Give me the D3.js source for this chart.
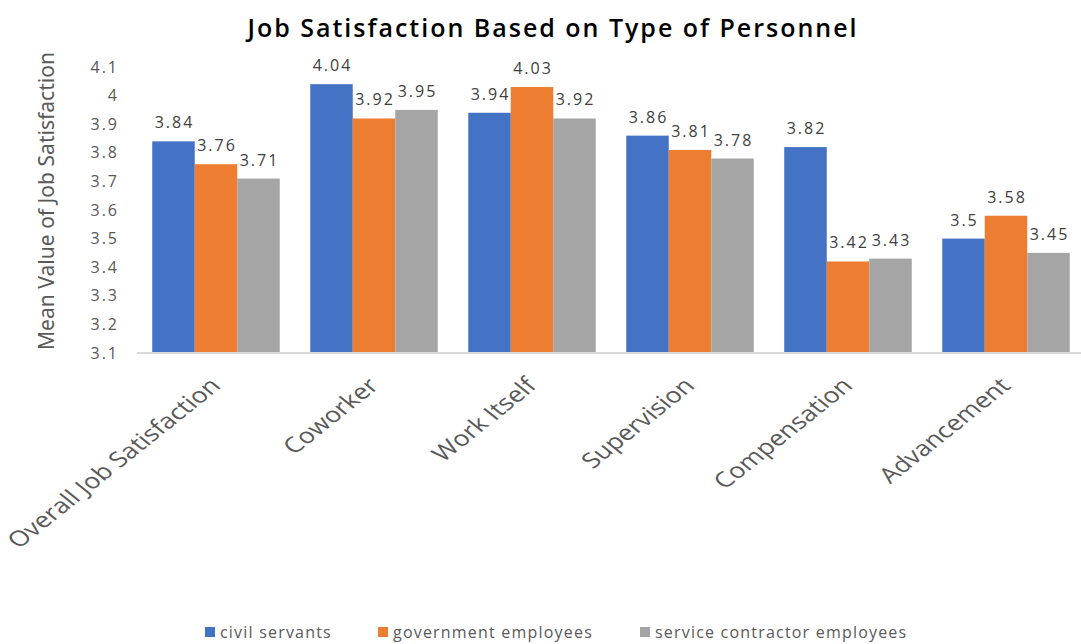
<!DOCTYPE html>
<html>
<head>
<meta charset="utf-8">
<script src="https://cdn.jsdelivr.net/npm/d3@7"></script>
<style>
  html, body { margin: 0; padding: 0; background: #fff; }
  svg { display: block; }
</style>
</head>
<body>
<svg id="chart" width="1081" height="644"></svg>
<script>
// Job satisfaction means by personnel type
const categories = ["Overall Job Satisfaction", "Coworker", "Work Itself", "Supervision", "Compensation", "Advancement"];
const seriesNames = ["civil servants", "government employees", "service contractor employees"];
const civilServants = [3.84, 4.04, 3.94, 3.86, 3.82, 3.5];
const governmentEmployees = [3.76, 3.92, 4.03, 3.81, 3.42, 3.58];
const contractorEmployees = [3.71, 3.95, 3.92, 3.78, 3.43, 3.45];
const yTicks = [3.1, 3.2, 3.3, 3.4, 3.5, 3.6, 3.7, 3.8, 3.9, 4, 4.1];
const colors = ["#4472C4", "#ED7D31", "#A5A5A5"];

const seriesValues = [civilServants, governmentEmployees, contractorEmployees];

const svg = d3.select("#chart");
const font = "'Open Sans', 'Noto Sans', sans-serif";

const plot = { left: 137, right: 1085, top: 67, bottom: 353 };

const x = d3.scaleBand().domain(categories).range([plot.left, plot.right]).paddingInner(0.193).paddingOuter(0.0965);
const xs = d3.scaleBand().domain(seriesNames).range([0, x.bandwidth()]);
const y = d3.scaleLinear().domain([3.1, 4.1]).range([plot.bottom, plot.top]);

// Title
svg.append("text")
  .attr("x", 552).attr("y", 37)
  .attr("text-anchor", "middle")
  .attr("font-family", font)
  .attr("font-weight", 600)
  .attr("font-size", 25)
  .attr("fill", "#000")
  .attr("textLength", 609)
  .attr("lengthAdjust", "spacing")
  .text("Job Satisfaction Based on Type of Personnel");

// Y axis (labels only)
const yAxis = d3.axisLeft(y).tickValues(yTicks).tickSize(0).tickPadding(0).tickFormat(d => String(d));
const yg = svg.append("g").attr("transform", `translate(119,0)`).call(yAxis);
yg.select(".domain").remove();
yg.selectAll("text")
  .attr("font-family", font)
  .attr("font-size", 16)
  .attr("letter-spacing", 2)
  .attr("fill", "#595959");

// Y axis title
svg.append("text")
  .attr("transform", `translate(54,${(52 + 350) / 2}) rotate(-90)`)
  .attr("text-anchor", "middle")
  .attr("font-family", "'Liberation Sans Narrow', 'Noto Sans', sans-serif")
  .attr("font-size", 22)
  .attr("fill", "#595959")
  .attr("textLength", 298)
  .attr("lengthAdjust", "spacingAndGlyphs")
  .text("Mean Value of Job Satisfaction");

// Bars
const groups = svg.append("g").selectAll("g")
  .data(categories)
  .join("g")
  .attr("transform", d => `translate(${x(d)},0)`);

groups.selectAll("rect")
  .data((c, i) => seriesNames.map((s, j) => ({ s, v: seriesValues[j][i], j })))
  .join("rect")
  .attr("x", d => xs(d.s))
  .attr("y", d => y(d.v))
  .attr("width", xs.bandwidth())
  .attr("height", d => y(3.1) - y(d.v))
  .attr("fill", d => colors[d.j]);

groups.selectAll("text.val")
  .data((c, i) => seriesNames.map((s, j) => ({ s, v: seriesValues[j][i], j })))
  .join("text")
  .attr("class", "val")
  .attr("x", d => xs(d.s) + xs.bandwidth() / 2 + 1)
  .attr("y", d => y(d.v) - 13)
  .attr("text-anchor", "middle")
  .attr("font-family", font)
  .attr("font-size", 16)
  .attr("letter-spacing", 2)
  .attr("fill", "#404040")
  .text(d => String(d.v));

// X axis baseline
svg.append("line")
  .attr("x1", plot.left).attr("x2", plot.right)
  .attr("y1", y(3.1)).attr("y2", y(3.1))
  .attr("stroke", "#D9D9D9")
  .attr("stroke-width", 2);

// Category labels, rotated and widened horizontally
const xAxis = d3.axisBottom(x).tickSize(0).tickPadding(0);
const xg = svg.append("g").attr("transform", `translate(0,${plot.bottom})`).call(xAxis);
xg.select(".domain").remove();
xg.selectAll("text")
  .attr("font-family", font)
  .attr("font-size", 21.5)
  .attr("fill", "#595959")
  .attr("text-anchor", "end")
  .attr("dy", 0)
  .attr("transform", "translate(6,34) scale(1.25,1) rotate(-45)");

// Legend
const legendItems = [
  { name: seriesNames[0], x: 205 },
  { name: seriesNames[1], x: 378 },
  { name: seriesNames[2], x: 640 }
];
const lg = svg.append("g");
legendItems.forEach((it, i) => {
  lg.append("rect").attr("x", it.x).attr("y", 627).attr("width", 10).attr("height", 10).attr("fill", colors[i]);
  lg.append("text")
    .attr("x", it.x + 15).attr("y", 638)
    .attr("font-family", font)
    .attr("font-size", 16)
    .attr("letter-spacing", 1.2)
    .attr("fill", "#595959")
    .text(it.name);
});
</script>
</body>
</html>
